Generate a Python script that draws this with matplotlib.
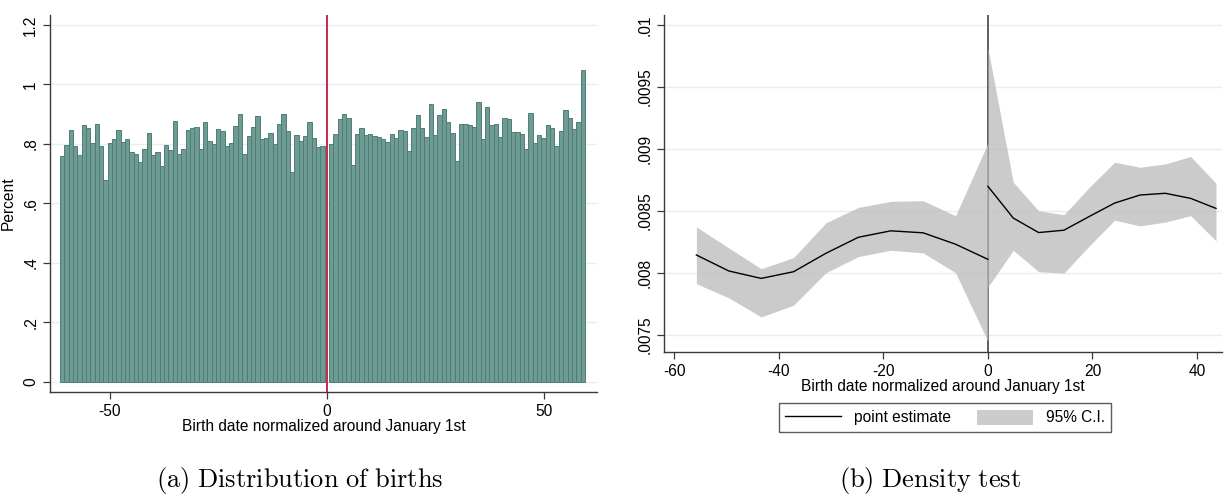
import numpy as np
import matplotlib
matplotlib.use("Agg")
import matplotlib.pyplot as plt
from matplotlib.lines import Line2D
from matplotlib.patches import Patch

plt.rcParams['font.family'] = ['Liberation Sans', 'DejaVu Sans']
plt.rcParams['mathtext.fontset'] = 'cm'

# ---- Panel (a): share of births by day relative to January 1st ----
days_before = list(range(-61, 0))
pct_before = [0.760, 0.797, 0.846, 0.792, 0.763, 0.863, 0.853, 0.804, 0.866, 0.794,
              0.677, 0.804, 0.817, 0.846, 0.807, 0.817, 0.771, 0.767, 0.738, 0.784,
              0.838, 0.763, 0.773, 0.725, 0.797, 0.778, 0.877, 0.765, 0.781, 0.846,
              0.853, 0.857, 0.784, 0.875, 0.809, 0.799, 0.850, 0.844, 0.793, 0.802,
              0.859, 0.899, 0.767, 0.828, 0.857, 0.894, 0.815, 0.819, 0.838, 0.800,
              0.865, 0.900, 0.842, 0.707, 0.830, 0.811, 0.826, 0.873, 0.819, 0.791,
              0.793]
days_after = list(range(1, 60))
pct_after = [0.801, 0.834, 0.882, 0.900, 0.888, 0.728, 0.832, 0.853, 0.829, 0.834,
             0.827, 0.822, 0.815, 0.807, 0.834, 0.818, 0.848, 0.844, 0.775, 0.853,
             0.898, 0.853, 0.823, 0.933, 0.829, 0.897, 0.916, 0.873, 0.836, 0.744,
             0.868, 0.865, 0.863, 0.855, 0.940, 0.815, 0.923, 0.863, 0.866, 0.823,
             0.888, 0.885, 0.840, 0.840, 0.834, 0.782, 0.902, 0.804, 0.829, 0.818,
             0.863, 0.854, 0.793, 0.844, 0.915, 0.886, 0.851, 0.875, 1.049]
hist_yticks = [0, 0.2, 0.4, 0.6, 0.8, 1.0, 1.2]
hist_yticklabels = ["0", ".2", ".4", ".6", ".8", "1", "1.2"]
hist_xticks = [-50, 0, 50]

# ---- Panel (b): density test, point estimate and 95% band on each side ----
x_left = [-55.8, -49.6, -43.4, -37.2, -31.0, -24.8, -18.6, -12.4, -6.2, 0.0]
est_left = [0.008143, 0.008014, 0.007954, 0.008008, 0.008157, 0.008286,
            0.008338, 0.008322, 0.008230, 0.008108]
hi_left = [0.008370, 0.008200, 0.008032, 0.008122, 0.008403, 0.008527,
           0.008576, 0.008581, 0.008460, 0.009046]
lo_left = [0.007911, 0.007797, 0.007643, 0.007738, 0.008000, 0.008130,
           0.008181, 0.008160, 0.008000, 0.007446]
x_right = [0.0, 4.85, 9.7, 14.55, 19.4, 24.25, 29.1, 33.95, 38.8, 43.65]
est_right = [0.008697, 0.008441, 0.008324, 0.008343, 0.008454, 0.008562,
             0.008627, 0.008641, 0.008600, 0.008519]
hi_right = [0.009811, 0.008730, 0.008500, 0.008468, 0.008689, 0.008892,
            0.008851, 0.008878, 0.008938, 0.008722]
lo_right = [0.007884, 0.008181, 0.008008, 0.007997, 0.008216, 0.008424,
            0.008378, 0.008408, 0.008460, 0.008257]
dens_yticks = [0.0075, 0.008, 0.0085, 0.009, 0.0095, 0.01]
dens_yticklabels = [".0075", ".008", ".0085", ".009", ".0095", ".01"]
dens_xticks = [-60, -40, -20, 0, 20, 40]

W, H = 1225, 497
fig = plt.figure(figsize=(W / 100, H / 100), dpi=100)

axis_col = "#3a3a3a"
grid_col = "#e6eef0"
tick_fs = 11.2


def style_axes(ax):
    for s in ("top", "right"):
        ax.spines[s].set_visible(False)
    for s in ("left", "bottom"):
        ax.spines[s].set_color(axis_col)
        ax.spines[s].set_linewidth(1.0)
    ax.tick_params(axis="both", direction="out", length=5, width=0.9,
                   color=axis_col, labelsize=tick_fs, labelcolor="black")
    for lab in ax.get_yticklabels():
        lab.set_rotation(90)
        lab.set_va("center")


# Panel (a)
ax1 = fig.add_axes([50 / W, 1 - 392 / H, 547 / W, 377 / H])
days = days_before + days_after
pct = pct_before + pct_after
ax1.set_yticks(hist_yticks)
ax1.set_yticklabels(hist_yticklabels)
for t in hist_yticks:
    ax1.axhline(t, color=grid_col, lw=1.0, zorder=0)
ax1.bar(days, pct, width=1.0, color="#6f9b95", edgecolor="#4f7e77",
        linewidth=0.7, zorder=2)
ax1.axvline(0, color="#c8284e", lw=1.4, zorder=3)
ax1.set_xlim(-63.8, 62.3)
ax1.set_ylim(-0.034, 1.233)
ax1.set_xticks(hist_xticks)
ax1.set_xticklabels([str(v) for v in hist_xticks])
ax1.set_ylabel("Percent", fontsize=tick_fs, labelpad=5)
ax1.set_xlabel("Birth date normalized around January 1st", fontsize=tick_fs,
               labelpad=0)
style_axes(ax1)

# Panel (b)
ax2 = fig.add_axes([664 / W, 1 - 352 / H, 558 / W, 337 / H])
ax2.set_yticks(dens_yticks)
ax2.set_yticklabels(dens_yticklabels)
for t in dens_yticks:
    ax2.axhline(t, color=grid_col, lw=1.0, zorder=0)
ax2.axvline(0, color="#444444", lw=1.2, zorder=1)
band_col = "#bdbdbd"
ax2.fill_between(x_left, lo_left, hi_left, color=band_col, alpha=0.78,
                 lw=0, zorder=2)
ax2.fill_between(x_right, lo_right, hi_right, color=band_col, alpha=0.78,
                 lw=0, zorder=2)
ax2.plot(x_left, est_left, color="black", lw=1.0, zorder=3)
ax2.plot(x_right, est_right, color="black", lw=1.0, zorder=3)
ax2.set_xlim(-62, 44.8)
ax2.set_ylim(0.00736, 0.01008)
ax2.set_xticks(dens_xticks)
ax2.set_xticklabels([str(v) for v in dens_xticks])
ax2.set_xlabel("Birth date normalized around January 1st", fontsize=tick_fs,
               labelpad=0)
style_axes(ax2)

handles = [Line2D([0], [0], color="black", lw=1.0),
           Patch(facecolor="#cccccc", edgecolor="none")]
leg = fig.legend(handles, ["point estimate", "95% C.I."], ncol=2,
                 loc="center", bbox_to_anchor=(945 / W, 1 - 417.5 / H),
                 fontsize=tick_fs, frameon=True, fancybox=False,
                 handlelength=3.6, handleheight=1.1, columnspacing=1.7,
                 borderpad=0.4, handletextpad=0.8, borderaxespad=0)
leg.get_frame().set_edgecolor("#333333")
leg.get_frame().set_linewidth(1.0)

# Sub-figure captions
cap_fs = 19
fig.text(300 / W, 1 - 496 / H, r"$\mathrm{(a)\ Distribution\ of\ births}$",
         ha="center", va="bottom", fontsize=cap_fs)
fig.text(930 / W, 1 - 496 / H, r"$\mathrm{(b)\ Density\ test}$",
         ha="center", va="bottom", fontsize=cap_fs)

fig.savefig("out.png", dpi=100)
